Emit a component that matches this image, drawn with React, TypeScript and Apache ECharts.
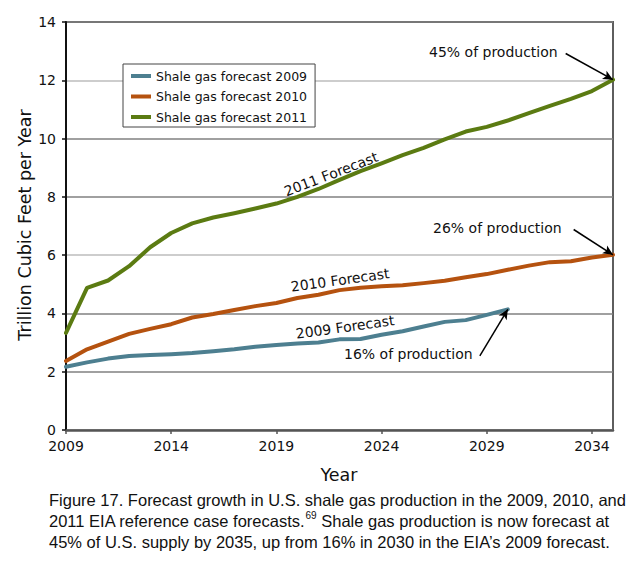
import React, { useEffect, useRef } from "react";
import * as echarts from "echarts";

// ---- data ----
const years = [
  2009, 2010, 2011, 2012, 2013, 2014, 2015, 2016, 2017, 2018, 2019, 2020, 2021, 2022,
  2023, 2024, 2025, 2026, 2027, 2028, 2029, 2030, 2031, 2032, 2033, 2034, 2035,
];
const forecast2009 = [
  2.17, 2.32, 2.45, 2.54, 2.57, 2.6, 2.64, 2.7, 2.77, 2.86, 2.92, 2.97, 3.0, 3.11,
  3.12, 3.27, 3.39, 3.55, 3.71, 3.77, 3.95, 4.14,
];
const forecast2010 = [
  2.37, 2.77, 3.03, 3.3, 3.47, 3.63, 3.86, 3.98, 4.12, 4.25, 4.36, 4.53, 4.64, 4.8,
  4.88, 4.93, 4.97, 5.04, 5.12, 5.24, 5.35, 5.5, 5.64, 5.76, 5.79, 5.92, 6.01,
];
const forecast2011 = [
  3.33, 4.88, 5.13, 5.62, 6.27, 6.76, 7.09, 7.29, 7.44, 7.6, 7.77, 8.0, 8.27, 8.58,
  8.88, 9.15, 9.43, 9.68, 9.97, 10.24, 10.4, 10.62, 10.87, 11.12, 11.36, 11.63, 12.02,
];
const xTickYears = [2009, 2014, 2019, 2024, 2029, 2034];
const seriesNames = [
  "Shale gas forecast 2009",
  "Shale gas forecast 2010",
  "Shale gas forecast 2011",
];
const lineLabels = ["2009 Forecast", "2010 Forecast", "2011 Forecast"];
const shareLabels = ["16% of production", "26% of production", "45% of production"];
// arrow start points (data coords) for the share annotations
const arrowStarts = [
  [2028.67, 2.54],
  [2033.13, 6.88],
  [2032.75, 12.92],
];
const yTitle = "Trillion Cubic Feet per Year";
const xTitle = "Year";
const captionLines = [
  "Figure 17. Forecast growth in U.S. shale gas production in the 2009, 2010, and",
  "2011 EIA reference case forecasts.{sup|69} Shale gas production is now forecast at",
  "45% of U.S. supply by 2035, up from 16% in 2030 in the EIA\u2019s 2009 forecast.",
];

const colors = ["#4d7f90", "#b5520f", "#5b7b12"];
const FONT = "DejaVu Sans";

export default function App() {
  const ref = useRef<HTMLDivElement>(null);

  useEffect(() => {
    if (!ref.current) return;
    const chart = echarts.init(ref.current, undefined, { renderer: "svg" });
    const allValues = [forecast2009, forecast2010, forecast2011];

    const series = allValues.map((vals, i) => {
      const last = vals.length - 1;
      return {
        name: seriesNames[i],
        type: "line",
        data: vals.map((v, k) => [years[k], v]),
        symbol: "none",
        clip: false,
        lineStyle: { color: colors[i], width: 4, cap: "round", join: "round" },
        itemStyle: { color: colors[i] },
        z: 3,
        markLine: {
          silent: true,
          symbol: ["none", "arrow"],
          symbolSize: [7, 10],
          label: { show: false },
          lineStyle: { color: "#000", width: 1.5, type: "solid" },
          data: [
            [
              { coord: arrowStarts[i] },
              { coord: [years[last], vals[last]] },
            ],
          ],
        },
      };
    });

    const textStyle = (text: string, size: number, align = "center") => ({
      text,
      font: `${size}px "${FONT}"`,
      fill: "#111",
      align,
      verticalAlign: "middle",
    });

    const graphics: any[] = [
      { type: "text", x: 25, y: 225, rotation: Math.PI / 2, style: textStyle(yTitle, 17.5) },
      { type: "text", x: 339, y: 475, style: textStyle(xTitle, 17.5) },
      { type: "text", x: 345, y: 327, rotation: (8 * Math.PI) / 180, style: textStyle(lineLabels[0], 14) },
      { type: "text", x: 340, y: 280, rotation: (8 * Math.PI) / 180, style: textStyle(lineLabels[1], 14) },
      { type: "text", x: 331, y: 174, rotation: (21 * Math.PI) / 180, style: textStyle(lineLabels[2], 14) },
      { type: "text", x: 344, y: 354, style: textStyle(shareLabels[0], 14, "left") },
      { type: "text", x: 433, y: 228, style: textStyle(shareLabels[1], 14, "left") },
      { type: "text", x: 429, y: 52, style: textStyle(shareLabels[2], 14, "left") },
    ];

    const captionY = [499.5, 520.8, 542];
    captionLines.forEach((line, i) => {
      graphics.push({
        type: "text",
        x: 49,
        y: captionY[i],
        style: {
          text: line,
          fontFamily: "Liberation Sans",
          fontSize: 16.5,
          fill: "#111",
          align: "left",
          verticalAlign: "middle",
          rich: {
            sup: {
              fontFamily: "Liberation Sans",
              fontSize: 10,
              fill: "#111",
              verticalAlign: "top",
              padding: [0, 0, 10, 0],
            },
          },
        },
      });
    });

    chart.setOption({
      animation: false,
      backgroundColor: "#fff",
      grid: {
        left: 66,
        top: 22,
        width: 547,
        height: 408,
        show: true,
        borderColor: "#5e5e5e",
        borderWidth: 2,
        backgroundColor: "transparent",
      },
      legend: {
        orient: "vertical",
        left: 123,
        top: 64,
        data: seriesNames,
        icon: "rect",
        itemWidth: 20,
        itemHeight: 4,
        itemGap: 6.5,
        padding: [5, 8, 3, 8],
        borderColor: "#444",
        borderWidth: 1,
        backgroundColor: "#fff",
        textStyle: {
          fontFamily: FONT,
          fontSize: 12.5,
          color: "#111",
          lineHeight: 14,
        },
        selectedMode: false,
      },
      xAxis: {
        type: "value",
        min: 2009,
        max: 2035,
        axisLine: { show: true, lineStyle: { color: "#555", width: 2.5 } },
        axisTick: {
          show: true,
          length: 4,
          customValues: xTickYears,
          lineStyle: { color: "#555", width: 1.5 },
        },
        axisLabel: {
          customValues: xTickYears,
          formatter: (v: number) => String(v),
          fontFamily: FONT,
          fontSize: 14,
          color: "#111",
          margin: 9,
        },
        splitLine: { show: false },
      },
      yAxis: {
        type: "value",
        min: 0,
        max: 14,
        interval: 2,
        axisLine: { show: true, lineStyle: { color: "#111", width: 2 } },
        axisTick: { show: true, length: 4, lineStyle: { color: "#111", width: 1.5 } },
        axisLabel: {
          fontFamily: FONT,
          fontSize: 14,
          color: "#111",
          margin: 10,
        },
        splitLine: {
          show: true,
          lineStyle: { color: ["#bcbcbc", "#808080", "#808080"], width: 1.5 },
        },
      },
      series,
      graphic: graphics,
    });

    return () => chart.dispose();
  }, []);

  return (
    <div
      ref={ref}
      style={{
        position: "fixed",
        left: 0,
        top: 0,
        width: 644,
        height: 569,
        background: "#fff",
      }}
    />
  );
}
